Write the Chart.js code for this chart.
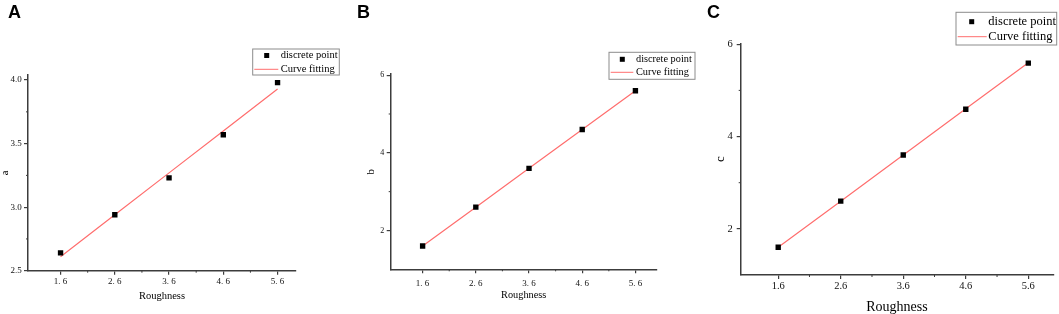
<!DOCTYPE html>
<html>
<head>
<meta charset="utf-8">
<script src="https://cdn.jsdelivr.net/npm/chart.js@4.4.1/dist/chart.umd.min.js"></script>
<style>
  body { margin: 0; background: #fff; }
  #wrap { position: relative; width: 1059px; height: 314px; overflow: hidden; }
  canvas { position: absolute; top: 0; }
  .tag { position: absolute; top: 3px; font: bold 18px "Liberation Sans", Arial, sans-serif; line-height: 1; color: #000; }
</style>
</head>
<body>
<div id="wrap">
  <canvas id="chartA" width="350" height="314" style="left:0px"></canvas>
  <canvas id="chartB" width="350" height="314" style="left:350px"></canvas>
  <canvas id="chartC" width="359" height="314" style="left:700px"></canvas>
  <div class="tag" style="left:8px">A</div>
  <div class="tag" style="left:357px">B</div>
  <div class="tag" style="left:707px">C</div>
</div>
<script>
// x values shared by all three panels
const roughness = [1.6, 2.6, 3.6, 4.6, 5.6];
const xLabelsSpaced = ['1. 6', '2. 6', '3. 6', '4. 6', '5. 6'];
const xLabelsPlain = ['1.6', '2.6', '3.6', '4.6', '5.6'];
const xMinor = [2.1, 3.1, 4.1, 5.1];

// panel A: parameter a
const aPoints = [2.64, 2.94, 3.23, 3.57, 3.98];
const aFit = [2.61, 2.94, 3.27, 3.60, 3.93];
const aTicks = [2.5, 3.0, 3.5, 4.0];
const aTickLabels = ['2.5', '3.0', '3.5', '4.0'];
const aMinor = [2.75, 3.25, 3.75];

// panel B: parameter b
const bPoints = [1.6, 2.6, 3.6, 4.6, 5.6];
const bFit = [1.6, 2.6, 3.6, 4.6, 5.6];
const bTicks = [2, 4, 6];
const bTickLabels = ['2', '4', '6'];
const bMinor = [3, 5];

// panel C: parameter c
const cPoints = [1.6, 2.6, 3.6, 4.59, 5.59];
const cFit = [1.6, 2.6, 3.6, 4.6, 5.6];
const cTicks = [2, 4, 6];
const cTickLabels = ['2', '4', '6'];
const cMinor = [3, 5];

const SERIF = '"Liberation Serif", "Times New Roman", serif';
const AXIS = '#3c3c3c';
const FIT = '#ff6e6e';

const toXY = (xs, ys) => xs.map((x, i) => ({ x: x, y: ys[i] }));

// short minor ticks, Origin style
const minorTicks = {
  id: 'minorTicks',
  afterDraw(chart, args, o) {
    const { ctx, scales: { x, y } } = chart;
    ctx.save();
    ctx.strokeStyle = AXIS;
    ctx.lineWidth = 1;
    o.xs.forEach(v => {
      const px = x.getPixelForValue(v);
      ctx.beginPath(); ctx.moveTo(px, x.top); ctx.lineTo(px, x.top + o.len); ctx.stroke();
    });
    o.ys.forEach(v => {
      const py = y.getPixelForValue(v);
      ctx.beginPath(); ctx.moveTo(y.right, py); ctx.lineTo(y.right - o.len, py); ctx.stroke();
    });
    ctx.restore();
  }
};

// framed legend in the top right corner
const boxLegend = {
  id: 'boxLegend',
  afterDraw(chart, args, o) {
    const ctx = chart.ctx;
    const [pts, fit] = chart.data.datasets;
    ctx.save();
    ctx.fillStyle = '#fff';
    ctx.fillRect(o.box[0], o.box[1], o.box[2], o.box[3]);
    ctx.strokeStyle = '#8c8c8c';
    ctx.lineWidth = 1;
    ctx.strokeRect(o.box[0], o.box[1], o.box[2], o.box[3]);
    const s = 5;
    ctx.fillStyle = '#000';
    ctx.fillRect(o.markerX - s / 2, o.rows[0] - s / 2, s, s);
    ctx.strokeStyle = FIT;
    ctx.beginPath(); ctx.moveTo(o.line[0], o.rows[1]); ctx.lineTo(o.line[1], o.rows[1]); ctx.stroke();
    ctx.fillStyle = '#000';
    ctx.font = o.size + 'px ' + SERIF;
    ctx.textBaseline = 'middle';
    ctx.textAlign = 'left';
    ctx.fillText(pts.label, o.textX, o.rows[0]);
    ctx.fillText(fit.label, o.textX, o.rows[1]);
    ctx.restore();
  }
};

Chart.register(minorTicks, boxLegend);

function makePanel(id, p) {
  const canvas = document.getElementById(id);
  const W = canvas.width, H = canvas.height;
  new Chart(canvas, {
    type: 'scatter',
    data: {
      datasets: [
        { label: 'discrete point', data: toXY(roughness, p.points), pointStyle: 'rect', pointRadius: 3.8, pointHoverRadius: 3.8,
          backgroundColor: '#000', borderColor: '#000', borderWidth: 0, showLine: false },
        { label: 'Curve fitting', data: toXY(roughness, p.fit), showLine: true, pointRadius: 0, pointHoverRadius: 0,
          borderColor: FIT, borderWidth: 1.2, fill: false }
      ]
    },
    options: {
      responsive: false,
      animation: false,
      events: [],
      layout: { padding: { left: 0, top: p.area.top, right: W - p.area.right, bottom: 0 } },
      plugins: {
        legend: { display: false },
        tooltip: { enabled: false },
        minorTicks: { xs: xMinor, ys: p.yMinor, len: 2 },
        boxLegend: p.legend
      },
      scales: {
        x: {
          type: 'linear', min: p.xMin, max: p.xMax,
          afterFit: s => { s.height = H - p.area.bottom; },
          afterBuildTicks: s => { s.ticks = roughness.map(v => ({ value: v })); },
          ticks: { autoSkip: false, maxRotation: 0, color: '#111', padding: p.xTickPad,
                   font: { family: SERIF, size: p.tickSize }, callback: (v, i) => p.xLabels[i] },
          grid: { drawOnChartArea: false, drawTicks: true, tickLength: 4, color: AXIS, lineWidth: 1.2 },
          border: { display: true, color: AXIS, width: 1.5 },
          title: { display: true, text: 'Roughness', color: '#000',
                   font: { family: SERIF, size: p.titleSize }, padding: { top: 0, bottom: p.xTitlePad } }
        },
        y: {
          type: 'linear', min: p.yMin, max: p.yMax,
          afterFit: s => { s.width = p.area.left; },
          afterBuildTicks: s => { s.ticks = p.yTicks.map(v => ({ value: v })); },
          ticks: { autoSkip: false, color: '#111', padding: p.yTickPad,
                   font: { family: SERIF, size: p.yTickSize }, callback: (v, i) => p.yLabels[i] },
          grid: { drawOnChartArea: false, drawTicks: true, tickLength: 4, color: AXIS, lineWidth: 1.2 },
          border: { display: true, color: AXIS, width: 1.5 },
          title: { display: true, text: p.yTitle, color: '#000',
                   font: { family: SERIF, size: p.yTitleSize }, padding: { top: p.yTitlePad, bottom: 0 } }
        }
      }
    }
  });
}

makePanel('chartA', {
  points: aPoints, fit: aFit, yTicks: aTicks, yLabels: aTickLabels, yMinor: aMinor, xLabels: xLabelsSpaced,
  xMin: 1.0, xMax: 5.94, yMin: 2.5, yMax: 4.04, yTitle: 'a',
  area: { left: 28, right: 296, top: 75, bottom: 270.7 },
  tickSize: 9, yTickSize: 9, titleSize: 10.5, yTitleSize: 10.5,
  xTickPad: 1.9, yTickPad: 2.3, xTitlePad: 11.9, yTitlePad: -1.5,
  legend: { box: [252.7, 49, 86.6, 26], markerX: 266.7, line: [254.3, 278.3], textX: 280.7, rows: [55.5, 69.3], size: 10.5 }
});

makePanel('chartB', {
  points: bPoints, fit: bFit, yTicks: bTicks, yLabels: bTickLabels, yMinor: bMinor, xLabels: xLabelsSpaced,
  xMin: 1.0, xMax: 6.0, yMin: 1, yMax: 6.03, yTitle: 'b',
  area: { left: 40.7, right: 306.7, top: 74, bottom: 269.3 },
  tickSize: 9, yTickSize: 8, titleSize: 10.3, yTitleSize: 11,
  xTickPad: 4.8, yTickPad: 2.4, xTitlePad: 12.8, yTitlePad: 15,
  legend: { box: [259, 52.3, 86, 27], markerX: 272.3, line: [260.7, 283.3], textX: 286, rows: [59.3, 72.3], size: 10.3 }
});

makePanel('chartC', {
  points: cPoints, fit: cFit, yTicks: cTicks, yLabels: cTickLabels, yMinor: cMinor, xLabels: xLabelsPlain,
  xMin: 1.0, xMax: 6.0, yMin: 1, yMax: 6.02, yTitle: 'c',
  area: { left: 40.7, right: 353.3, top: 43.3, bottom: 275 },
  tickSize: 10.5, yTickSize: 10.5, titleSize: 14, yTitleSize: 13,
  xTickPad: 1.4, yTickPad: 4, xTitlePad: -1.5, yTitlePad: 12.7,
  legend: { box: [256, 12.3, 100.7, 32.7], markerX: 271.7, line: [257.7, 286.7], textX: 288.3, rows: [21.7, 36.7], size: 12.5 }
});
</script>
</body>
</html>
